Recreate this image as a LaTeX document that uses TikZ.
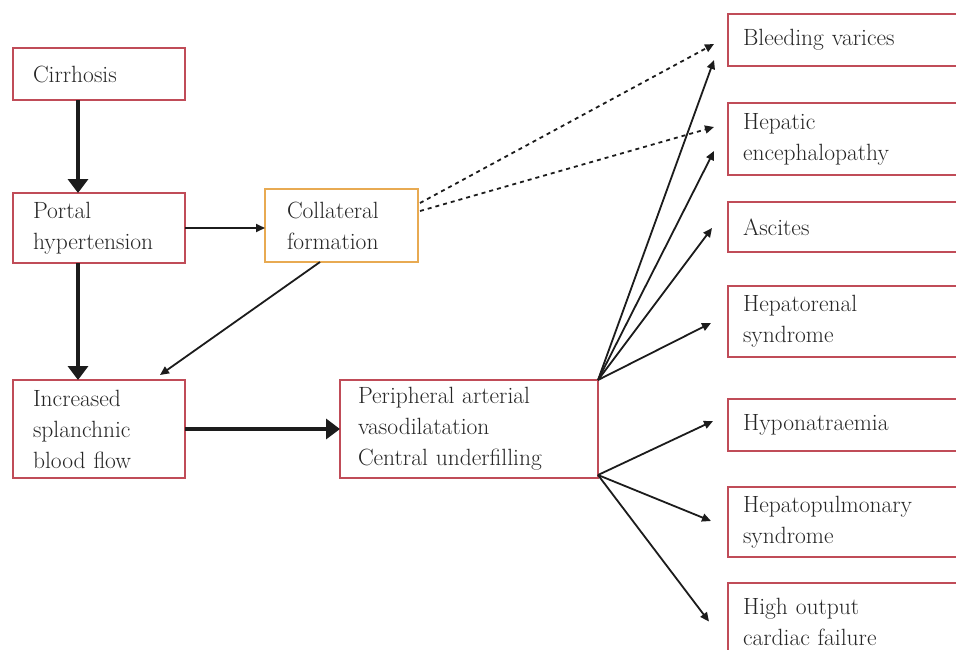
\documentclass[tikz,border=0pt]{standalone}
\usepackage{fontspec}
\usetikzlibrary{arrows.meta}
\definecolor{boxred}{RGB}{192,76,88}
\definecolor{boxorange}{RGB}{232,170,82}
\definecolor{txt}{RGB}{38,38,38}
\definecolor{arr}{RGB}{28,28,28}
\begin{document}
\begin{tikzpicture}[x=1pt,y=-1pt,
  box/.style={draw=boxred, line width=2.8pt, fill=white, anchor=north west,
    align=left, text=txt, font=\fontsize{23.5}{31}\selectfont,
    inner ysep=0pt, outer sep=0pt},
  lbox/.style={box, inner xsep=20pt, text width=132pt},
  rbox/.style={box, inner xsep=15pt, text width=240pt},
  thickarr/.style={draw=arr, line width=4.5pt, -{Triangle[length=14pt,width=20pt]}},
  thinarr/.style={draw=arr, line width=1.8pt, -{Triangle[length=9pt,width=8pt]}},
  dasharr/.style={thinarr, dash pattern=on 4pt off 4pt}]
\clip (0,0) rectangle (956,649);
\fill[white] (0,0) rectangle (956,649);

% left column
\node[lbox, minimum height=52pt] (cir) at (13,48) {Cirrhosis};
\node[lbox, minimum height=70pt] (por) at (13,193) {Portal\\hypertension};
\node[lbox, minimum height=98pt] (inc) at (13,380) {Increased\\splanchnic\\blood flow};
\node[box, draw=boxorange, inner xsep=22pt, text width=109pt, minimum height=73pt] (col) at (265,189) {Collateral\\formation};
\node[box, inner xsep=18pt, text width=222pt, minimum height=98pt] (per) at (340,380) {Peripheral arterial\\vasodilatation\\Central underfilling};

% right column
\node[rbox, minimum height=52pt] (bv) at (728,14) {Bleeding varices};
\node[rbox, minimum height=72pt] (he) at (728,103) {Hepatic\\encephalopathy};
\node[rbox, minimum height=50pt] (as) at (728,202) {Ascites};
\node[rbox, minimum height=71pt] (hr) at (728,286) {Hepatorenal\\syndrome};
\node[rbox, minimum height=52pt] (hy) at (728,399) {Hyponatraemia};
\node[rbox, minimum height=70pt] (hp) at (728,487) {Hepatopulmonary\\syndrome};
\node[rbox, minimum height=77pt] (ho) at (728,583) {High output\\cardiac failure};

% thick arrows
\draw[thickarr] ([xshift=65pt]cir.south west) -- ([xshift=65pt]por.north west);
\draw[thickarr] ([xshift=65pt]por.south west) -- ([xshift=65pt]inc.north west);
\draw[thickarr] (inc.east) -- (inc.east -| per.west);

% thin arrows
\draw[thinarr] (por.east) -- (por.east -| col.west);
\draw[thinarr] ([xshift=55pt]col.south west) -- ([xshift=147pt,yshift=5pt]inc.north west);

% dashed arrows from collateral formation
\draw[dasharr] ([xshift=2pt,yshift=22.5pt]col.east) -- ([xshift=-14pt,yshift=-4pt]bv.west);
\draw[dasharr] ([xshift=2pt,yshift=14.5pt]col.east) -- ([xshift=-14pt,yshift=12pt]he.west);

% arrows from peripheral box
\draw[thinarr] (per.north east) -- ([xshift=-14pt,yshift=-20pt]bv.west);
\draw[thinarr] (per.north east) -- ([xshift=-14pt,yshift=-12pt]he.west);
\draw[thinarr] (per.north east) -- ([xshift=-16pt,yshift=-1pt]as.west);
\draw[thinarr] (per.north east) -- ([xshift=-17pt,yshift=-1.5pt]hr.west);
\draw[thinarr] ([yshift=3pt]per.south east) -- ([xshift=-15pt,yshift=4pt]hy.west);
\draw[thinarr] ([yshift=3pt]per.south east) -- ([xshift=-17pt,yshift=1pt]hp.west);
\draw[thinarr] ([yshift=3pt]per.south east) -- ([xshift=-19pt]ho.west);
\end{tikzpicture}
\end{document}
